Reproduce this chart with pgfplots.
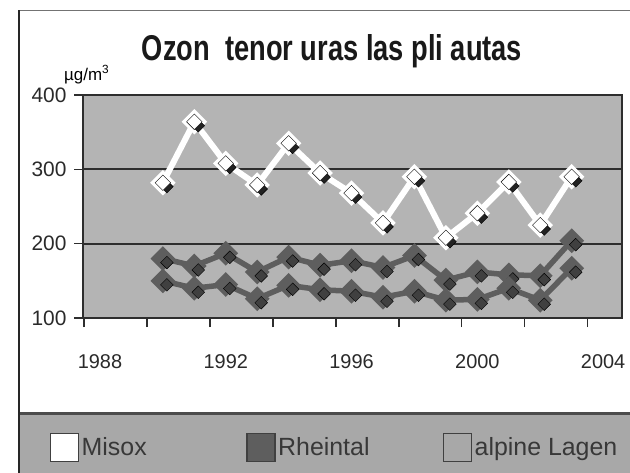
\documentclass[border=0pt]{standalone}
\usepackage{fontspec}
\setmainfont{Liberation Sans}
\newfontfamily\titlefont[FakeStretch=0.76]{Liberation Sans}
\usepackage{pgfplots}
\pgfplotsset{compat=1.18}

\definecolor{plotbg}{HTML}{B4B4B4}
\definecolor{axisdark}{HTML}{2E2E2E}
\definecolor{bandgray}{HTML}{A8A8A8}
\definecolor{seriesgray}{HTML}{5E5E5E}
\definecolor{shadowdark}{HTML}{222222}
\definecolor{tickgray}{HTML}{2A2A2A}

% Ozon, valurs maximalas (ug/m3)
\pgfplotstableread{
year misox rheintal alpin
1990 282 180 150
1991 364 170 140
1992 308 187 145
1993 279 162 126
1994 335 182 144
1995 295 171 138
1996 268 177 136
1997 228 168 128
1998 290 184 136
1999 208 151 124
2000 241 162 125
2001 283 158 140
2002 225 157 124
2003 290 204 167
}\ozon

\begin{document}
\begin{tikzpicture}
\useasboundingbox (0bp,0bp) rectangle (630bp,-473bp);
\fill[white] (0bp,0bp) rectangle (630bp,-473bp);
% legend band
\fill[bandgray] (19bp,-412bp) rectangle (630bp,-473bp);
\draw[black!70, line width=3bp] (19bp,-413.5bp) -- (630bp,-413.5bp);
% outer frame
\draw[black!55, line width=1bp] (19bp,-10bp) -- (630bp,-10bp);
\draw[black!85, line width=1.2bp] (19bp,-10bp) -- (19bp,-473bp);
\node[anchor=base, inner sep=0pt, text=black!90,
  font=\titlefont\bfseries\fontsize{36}{36}\selectfont]
  at (332bp,-60bp) {Ozon\ \ tenor uras las pli autas};
\node[anchor=base west, inner sep=0pt, font=\fontsize{17}{17}\selectfont]
  at (64bp,-80bp) {µg/m\textsuperscript{3}};

\begin{axis}[
  at={(83bp,-318bp)}, anchor=south west,
  scale only axis, width=539bp, height=223bp,
  xmin=1987.46, xmax=2004.6, ymin=100, ymax=400,
  axis background/.style={fill=plotbg},
  axis line style={draw=axisdark, line width=2bp},
  xtick pos=bottom, ytick pos=left,
  xtick={1987.5,1989.5,...,2003.5},
  xticklabels={,,,,,,,,},
  extra x ticks={1988,1992,1996,2000,2004},
  extra x tick labels={1988,1992,1996,2000,2004},
  extra x tick style={major tick length=0pt, grid=none},
  ytick={100,200,300,400},
  ymajorgrids, grid style={draw=axisdark, line width=2.2bp},
  tick align=outside, major tick length=9bp,
  tick style={draw=axisdark, line width=1.6bp},
  ticklabel style={text=tickgray},
  /pgf/number format/assume math mode=true,
  xticklabel style={yshift=-33bp, font=\fontsize{20}{20}\selectfont},
  yticklabel style={xshift=-4bp, font=\fontsize{21}{21}\selectfont},
  legend columns=3,
  legend cell align=left,
  legend style={at={(-0.0622,-0.5807)}, anchor=west, draw=none, fill=none,
    inner sep=0pt, nodes={inner xsep=2.5bp, inner ysep=0pt},
    font=\fontsize{25}{25}\selectfont, text=black!78,
    /tikz/every even column/.append style={column sep=0pt}},
]
\addlegendimage{legend image code/.code={\draw[draw=black!75, line width=1.5bp, fill=white]
    (0bp,-14bp) rectangle (28bp,14bp);}}
\addlegendimage{legend image code/.code={\draw[draw=black!75, line width=1.5bp, fill=seriesgray]
    (0bp,-14bp) rectangle (28bp,14bp);}}
\addlegendimage{legend image code/.code={\draw[draw=black!75, line width=1.5bp, fill=bandgray]
    (0bp,-14bp) rectangle (28bp,14bp);}}
% Rheintal
\addplot[forget plot, seriesgray, line width=5.5bp, mark=square*, mark size=6bp,
  mark options={rotate=45, fill=seriesgray, draw=none}]
  table[x=year, y=rheintal] {\ozon};
\addplot[forget plot, only marks, xshift=4bp, yshift=-4bp, mark=square*, mark size=4.5bp,
  mark options={rotate=45, fill=black!75, draw=none}]
  table[x=year, y=rheintal] {\ozon};
% alpine Lagen
\addplot[forget plot, seriesgray, line width=5.5bp, mark=square*, mark size=6bp,
  mark options={rotate=45, fill=seriesgray, draw=none}]
  table[x=year, y=alpin] {\ozon};
\addplot[forget plot, only marks, xshift=4bp, yshift=-4bp, mark=square*, mark size=4.5bp,
  mark options={rotate=45, fill=black!75, draw=none}]
  table[x=year, y=alpin] {\ozon};
% Misox
\addplot[forget plot, white, line width=6bp, mark=square*, mark size=6bp,
  mark options={rotate=45, fill=white, draw=none}]
  table[x=year, y=misox] {\ozon};
\addplot[forget plot, only marks, xshift=4bp, yshift=-4bp, mark=square*, mark size=4.5bp,
  mark options={rotate=45, fill=shadowdark, draw=none}]
  table[x=year, y=misox] {\ozon};
\addplot[forget plot, only marks, mark=square*, mark size=5.5bp,
  mark options={rotate=45, fill=white, draw=none}]
  table[x=year, y=misox] {\ozon};
\legend{\makebox[162bp][l]{Misox},\makebox[162bp][l]{Rheintal},alpine Lagen}
\end{axis}
\end{tikzpicture}
\end{document}
